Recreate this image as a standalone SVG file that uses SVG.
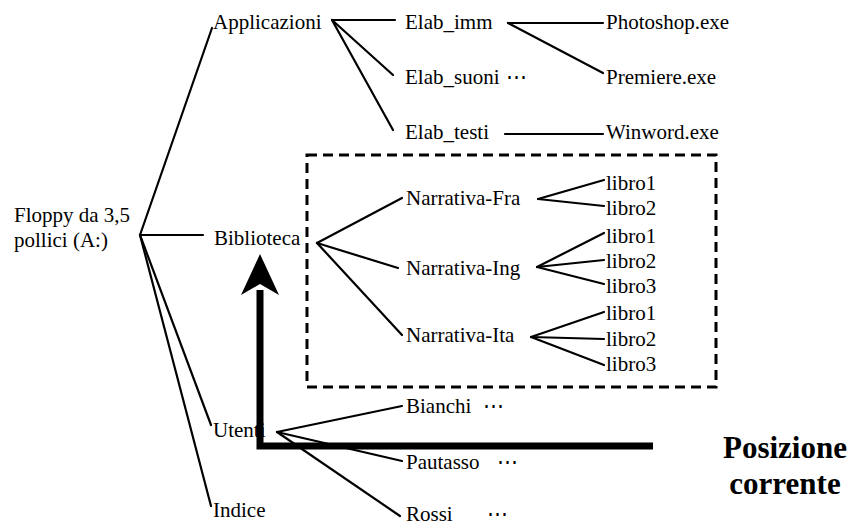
<svg xmlns="http://www.w3.org/2000/svg" width="852" height="525" viewBox="0 0 852 525">
<style>
text{font-family:'Liberation Serif','Times New Roman',Tinos,'DejaVu Serif','Noto Serif',serif;font-size:21px;fill:#000}
.c line{stroke:#000;stroke-width:2.2;stroke-linecap:round}
.big{font-weight:bold;font-size:31px;text-anchor:middle}
</style>
<rect width="852" height="525" fill="#fff"/>
<g id="connectors" class="c">
<line x1="140" y1="235" x2="212" y2="28"/>
<line x1="140" y1="235" x2="203" y2="235"/>
<line x1="140" y1="235" x2="211" y2="425"/>
<line x1="140" y1="235" x2="211" y2="506"/>
<line x1="332" y1="20" x2="395" y2="20"/>
<line x1="332" y1="20" x2="393" y2="75"/>
<line x1="332" y1="20" x2="393" y2="130"/>
<line x1="508" y1="23" x2="603" y2="23"/>
<line x1="508" y1="23" x2="603" y2="73"/>
<line x1="505" y1="134" x2="603" y2="134"/>
<line x1="317" y1="243" x2="402" y2="198"/>
<line x1="317" y1="243" x2="398" y2="268"/>
<line x1="317" y1="243" x2="402" y2="335"/>
<line x1="538" y1="199" x2="604" y2="180"/>
<line x1="538" y1="199" x2="604" y2="206"/>
<line x1="537" y1="267" x2="604" y2="233"/>
<line x1="537" y1="267" x2="604" y2="260"/>
<line x1="537" y1="267" x2="604" y2="284"/>
<line x1="531" y1="337" x2="604" y2="312"/>
<line x1="531" y1="337" x2="604" y2="339"/>
<line x1="531" y1="337" x2="604" y2="365"/>
<line x1="277" y1="432" x2="402" y2="406"/>
<line x1="277" y1="432" x2="402" y2="461"/>
<line x1="277" y1="432" x2="400" y2="516"/>
</g>
<rect id="selection" x="307" y="155" width="409" height="232" fill="none" stroke="#000" stroke-width="3" stroke-dasharray="10 6"/>
<g id="root"><text x="14" y="222">Floppy da 3,5</text><text x="14" y="247">pollici (A:)</text></g>
<g id="applicazioni"><text x="213" y="29">Applicazioni</text></g>
<g id="biblioteca"><text x="214" y="245">Biblioteca</text></g>
<g id="utenti"><text x="213" y="437">Utenti</text></g>
<g id="indice"><text x="213" y="517">Indice</text></g>
<g id="elab_imm"><text x="405" y="29">Elab_imm</text></g>
<g id="elab_suoni"><text x="405" y="84">Elab_suoni<tspan x="506">⋯</tspan></text></g>
<g id="elab_testi"><text x="405" y="139">Elab_testi</text></g>
<g id="photoshop"><text x="606" y="29">Photoshop.exe</text></g>
<g id="premiere"><text x="606" y="84">Premiere.exe</text></g>
<g id="winword"><text x="606" y="139">Winword.exe</text></g>
<g id="narr_fra"><text x="406" y="205">Narrativa-Fra</text></g>
<g id="narr_ing"><text x="406" y="275">Narrativa-Ing</text></g>
<g id="narr_ita"><text x="406" y="342">Narrativa-Ita</text></g>
<g id="fra_libri"><text x="606" y="190">libro1</text><text x="606" y="215">libro2</text></g>
<g id="ing_libri"><text x="606" y="243">libro1</text><text x="606" y="268">libro2</text><text x="606" y="293">libro3</text></g>
<g id="ita_libri"><text x="606" y="320">libro1</text><text x="606" y="346">libro2</text><text x="606" y="371">libro3</text></g>
<g id="bianchi"><text x="406" y="413">Bianchi<tspan x="483">⋯</tspan></text></g>
<g id="pautasso"><text x="406" y="469">Pautasso<tspan x="497">⋯</tspan></text></g>
<g id="rossi"><text x="406" y="521">Rossi<tspan x="487">⋯</tspan></text></g>
<g id="posizione">
<path d="M260,290 V446 H653" fill="none" stroke="#000" stroke-width="7" stroke-linejoin="miter"/>
<polygon points="260,254 279,295 260,284 241,295" fill="#000"/>
<text class="big" x="785" y="458">Posizione</text>
<text class="big" x="785" y="494">corrente</text>
</g>
</svg>
